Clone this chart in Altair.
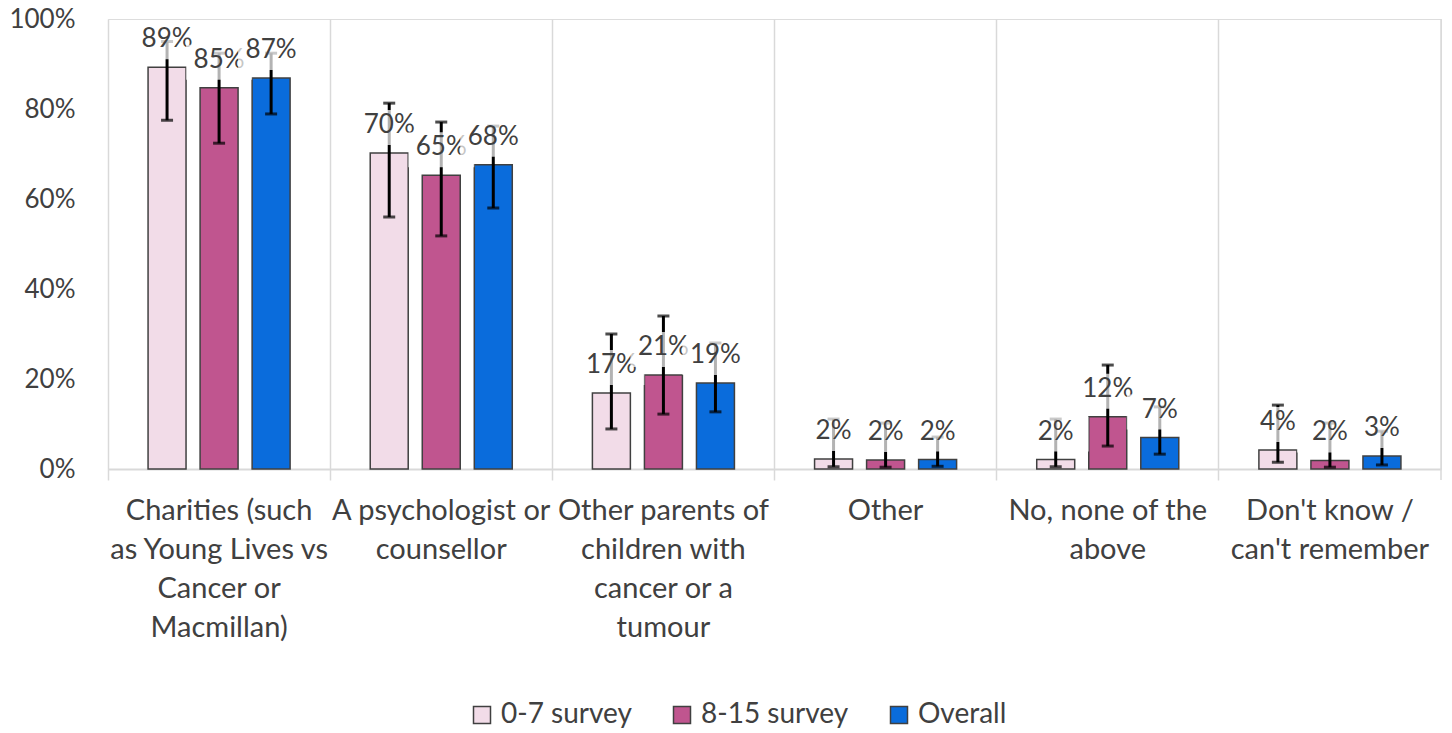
import altair as alt
import pandas as pd

# ---- data ----
category_lines = [
    ["Charities (such", "as Young Lives vs", "Cancer or", "Macmillan)"],
    ["A psychologist or", "counsellor"],
    ["Other parents of", "children with", "cancer or a", "tumour"],
    ["Other"],
    ["No, none of the", "above"],
    ["Don't know /", "can't remember"],
]
series = ["0-7 survey", "8-15 survey", "Overall"]
colors = ["#F2DCE8", "#C0558F", "#0A6CDC"]

v_0_7 = [89.3, 70.2, 16.9, 2.2, 2.1, 4.2]
lo_0_7 = [77.5, 56.0, 8.9, 0.5, 0.5, 1.5]
hi_0_7 = [95.0, 81.3, 30.0, 11.1, 11.1, 14.2]

v_8_15 = [84.7, 65.3, 20.9, 2.0, 11.6, 1.9]
lo_8_15 = [72.4, 51.8, 12.2, 0.4, 5.1, 0.4]
hi_8_15 = [92.4, 77.1, 34.0, 10.2, 23.1, 10.2]

v_all = [86.9, 67.6, 19.1, 2.1, 7.0, 2.9]
lo_all = [78.9, 58.0, 12.7, 0.6, 3.3, 0.9]
hi_all = [92.4, 76.2, 28.0, 7.1, 13.8, 8.4]

y_ticks = [0, 20, 40, 60, 80, 100]

# ---- build table ----
cats = ["|".join(l) for l in category_lines]
rows = []
for s, vals, los, his in [
    (series[0], v_0_7, lo_0_7, hi_0_7),
    (series[1], v_8_15, lo_8_15, hi_8_15),
    (series[2], v_all, lo_all, hi_all),
]:
    for c, v, lo, hi in zip(cats, vals, los, his):
        rows.append({"cat": c, "series": s, "value": v, "low": lo, "high": hi,
                     "label": f"{round(v)}%"})
df = pd.DataFrame(rows)

FONT = "Lato"
TXT = "#404040"
GRID = "#d9d9d9"
W, H = 1333, 450

x_enc = alt.X(
    "cat:N", sort=cats, title=None,
    scale=alt.Scale(paddingInner=0, paddingOuter=0),
    axis=alt.Axis(
        bandPosition=0, labelAngle=0,
        labelExpr="split(datum.label, '|')", labelLineHeight=39,
        labelFontSize=29, labelColor=TXT, labelFont=FONT, labelPadding=16,
        labelBaseline="top", labelOverlap=False, labelBound=False, labelLimit=400,
        grid=True, gridColor=GRID, gridWidth=1.5,
        ticks=True, tickSize=11, tickColor=GRID, tickWidth=1.5,
        domain=True, domainColor=GRID, domainWidth=2,
    ),
)
xo_enc = alt.XOffset("series:N", sort=series,
                     scale=alt.Scale(paddingInner=0.27, paddingOuter=0.77))
y_scale = alt.Scale(domain=[0, 100], nice=False)
y_axis = alt.Axis(values=y_ticks, labelExpr="datum.value + '%'", domain=False,
                  ticks=False, tickSize=0, grid=False, labelFontSize=26,
                  labelColor=TXT, labelFont=FONT, labelPadding=33)


def Y(field):
    return alt.Y(field, type="quantitative", scale=y_scale, axis=y_axis, title=None)


base = alt.Chart(df)

bars = base.mark_bar(stroke="#404040", strokeWidth=1.5).encode(
    x=x_enc, xOffset=xo_enc, y=Y("value"),
    color=alt.Color("series:N", sort=series,
                    scale=alt.Scale(domain=series, range=colors),
                    legend=alt.Legend(
                        title=None, orient="none", direction="horizontal",
                        legendX=360, legendY=682, symbolType="square",
                        symbolSize=289, symbolStrokeColor="#404040",
                        symbolStrokeWidth=1.5, labelFontSize=28,
                        labelColor=TXT, labelFont=FONT, labelOffset=5,
                        columnPadding=36, padding=0, symbolOpacity=1)),
)

err = base.mark_rule(color="black", strokeWidth=3).encode(
    x=x_enc, xOffset=xo_enc, y=Y("low"), y2="high")
cap_lo = base.mark_tick(color="black", size=12, thickness=3, orient="horizontal").encode(
    x=x_enc, xOffset=xo_enc, y=Y("low"))
cap_hi = base.mark_tick(color="black", size=12, thickness=3, orient="horizontal").encode(
    x=x_enc, xOffset=xo_enc, y=Y("high"))

label_layers = []
for s in series:
    sub = base.transform_filter(alt.datum.series == s)
    box = sub.mark_bar(color="white", opacity=0.7, width=66,
                       yOffset=-8, y2Offset=-43).encode(
        x=x_enc, xOffset=xo_enc, y=Y("value"), y2="value")
    txt = sub.mark_text(baseline="alphabetic", dy=-20, fontSize=26,
                        font=FONT, color=TXT).encode(
        x=x_enc, xOffset=xo_enc, y=Y("value"), text="label:N")
    label_layers += [box, txt]

right_edge = alt.Chart(pd.DataFrame({"k": [0]})).mark_rule(
    color=GRID, strokeWidth=1.5).encode(
    x=alt.value(W), y=alt.value(0), y2=alt.value(H + 11))

chart = alt.layer(bars, err, cap_lo, cap_hi, *label_layers, right_edge).properties(
    width=W, height=H,
    autosize=alt.AutoSizeParams(type="none"),
    padding={"left": 100, "top": 11, "right": 3, "bottom": 260},
).configure_view(stroke=None).configure(font=FONT)

chart.save("out.html", embed_options={"renderer": "svg", "actions": False})
